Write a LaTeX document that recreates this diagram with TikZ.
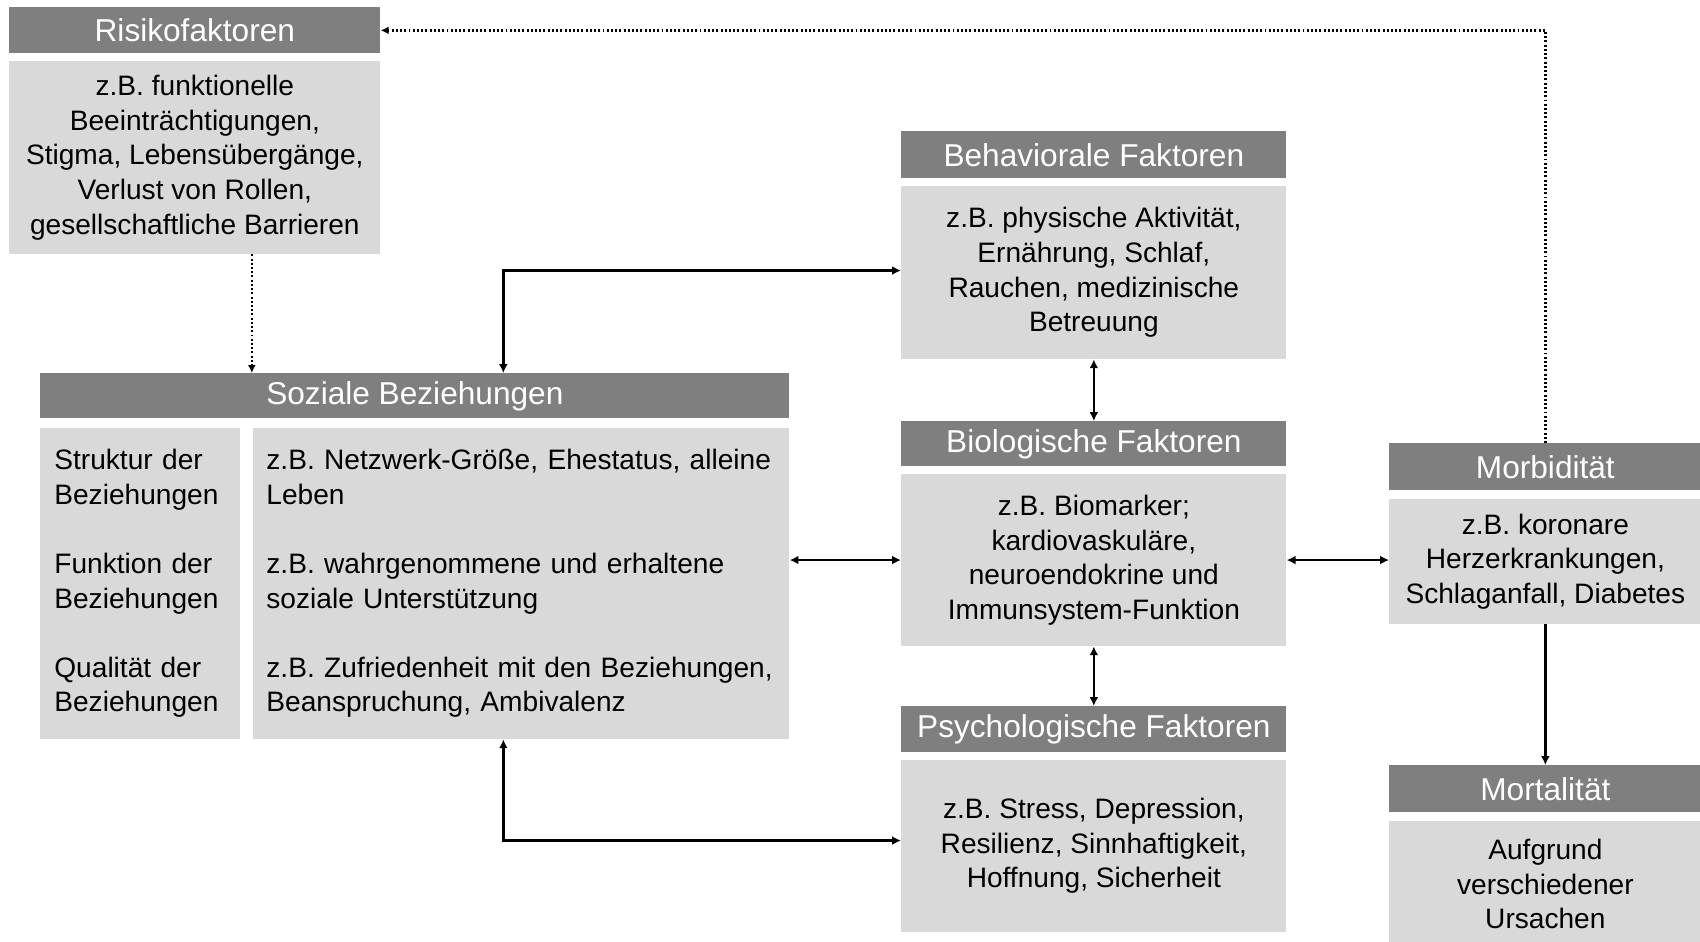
\documentclass[tikz,border=0pt]{standalone}
\usepackage{fontspec}
\setmainfont{Liberation Sans}
\usetikzlibrary{arrows.meta, positioning}
\definecolor{headGrey}{HTML}{7F7F7F}
\definecolor{bodyGrey}{HTML}{D9D9D9}
\newcommand{\hdfont}{\fontsize{18}{21.6}\selectfont}
\newcommand{\bdfont}{\fontsize{16}{19.7}\selectfont}
\tikzset{sz/.style 2 args={minimum width=#1*0.02cm, minimum height=#2*0.02cm}}

\begin{document}
\begin{tikzpicture}[
    x=0.02cm, y=-0.02cm,
    node distance=0.14cm,
    head/.style={rectangle, fill=headGrey, text=white, font=\hdfont, inner sep=0pt, anchor=north west},
    body/.style={rectangle, fill=bodyGrey, text=black, font=\bdfont, align=center, inner sep=0pt},
    link/.style={{Latex[length=5pt,width=5pt]}-{Latex[length=5pt,width=5pt]}, line width=1.4pt},
    oneway/.style={-{Latex[length=5pt,width=5pt]}, line width=1.4pt},
    dotlink/.style={-{Latex[length=4.5pt,width=4.5pt]}, line width=1.4pt, dash pattern=on 1.1pt off 1.3pt}
]
\useasboundingbox (0,0) rectangle (1700,941);
\clip (0,0) rectangle (1700,941);

% Risikofaktoren
\node[head, sz={371}{46}] (risk_head) at (9,7) {Risikofaktoren};
\node[body, sz={371}{193}, below=of risk_head] (risk_body) {z.B. funktionelle\\Beeinträchtigungen,\\Stigma, Lebensübergänge,\\Verlust von Rollen,\\gesellschaftliche Barrieren};

% Behaviorale Faktoren
\node[head, sz={385}{47}] (beh_head) at (901,131) {Behaviorale Faktoren};
\node[body, sz={385}{173}, below=of beh_head] (beh_body) {z.B. physische Aktivität,\\Ernährung, Schlaf,\\Rauchen, medizinische\\Betreuung};

% Soziale Beziehungen
\node[head, sz={749}{45}] (soc_head) at (40,373) {Soziale Beziehungen};
\node[body, sz={200}{311}, align=left, text width=3.44cm, inner xsep=0.28cm,
      below right=0.18cm and 0cm of soc_head.south west] (soc_struct)
      {Struktur der\\Beziehungen\\[19.7pt]Funktion der\\Beziehungen\\[19.7pt]Qualität der\\Beziehungen};
\node[body, sz={536}{311}, align=left, text width=10.2cm, inner xsep=0.26cm,
      below left=0.18cm and 0cm of soc_head.south east] (soc_examples)
      {z.B. Netzwerk-Größe, Ehestatus, alleine\\Leben\\[19.7pt]z.B. wahrgenommene und erhaltene\\soziale Unterstützung\\[19.7pt]z.B. Zufriedenheit mit den Beziehungen,\\Beanspruchung, Ambivalenz};

% Biologische Faktoren
\node[head, sz={385}{45}] (bio_head) at (901,421) {Biologische Faktoren};
\node[body, sz={385}{172}, below=of bio_head] (bio_body) {z.B. Biomarker;\\kardiovaskuläre,\\neuroendokrine und\\Immunsystem-Funktion};

% Psychologische Faktoren
\node[head, sz={385}{46}] (psy_head) at (901,706) {Psychologische Faktoren};
\node[body, sz={385}{172}, below=of psy_head] (psy_body) {z.B. Stress, Depression,\\Resilienz, Sinnhaftigkeit,\\Hoffnung, Sicherheit};

% Morbiditaet / Mortalitaet
\node[head, sz={312}{47}] (morb_head) at (1389,443) {Morbidität};
\node[body, sz={312}{125}, below=0.16cm of morb_head] (morb_body) {z.B. koronare\\Herzerkrankungen,\\Schlaganfall, Diabetes};
\node[head, sz={312}{47}] (mort_head) at (1389,765) {Mortalität};
\node[body, sz={312}{126}, below=0.16cm of mort_head] (mort_body) {Aufgrund\\verschiedener\\Ursachen};

% Verbindungen
\coordinate (risk_drop) at ([xshift=1.14cm]risk_body.south);
\draw[dotlink] (risk_drop) -- (risk_drop |- soc_head.north);
\draw[dotlink] (morb_head.north) |- (risk_head.east);
\coordinate (soc_up) at ([xshift=1.77cm]soc_head.north);
\draw[link] (soc_up) |- ([yshift=0.04cm]beh_body.west);
\coordinate (soc_down) at ([xshift=-0.36cm]soc_examples.south);
\draw[link] (soc_down) |- ([yshift=0.11cm]psy_body.west);
\draw[link] (soc_examples.east |- bio_body.west) -- (bio_body.west);
\draw[link] (bio_body.east) -- (bio_body.east -| morb_body.west);
\draw[link] (beh_body.south) -- (bio_head.north);
\draw[link] (bio_body.south) -- (psy_head.north);
\draw[oneway] (morb_body.south) -- (mort_head.north);

\end{tikzpicture}
\end{document}
